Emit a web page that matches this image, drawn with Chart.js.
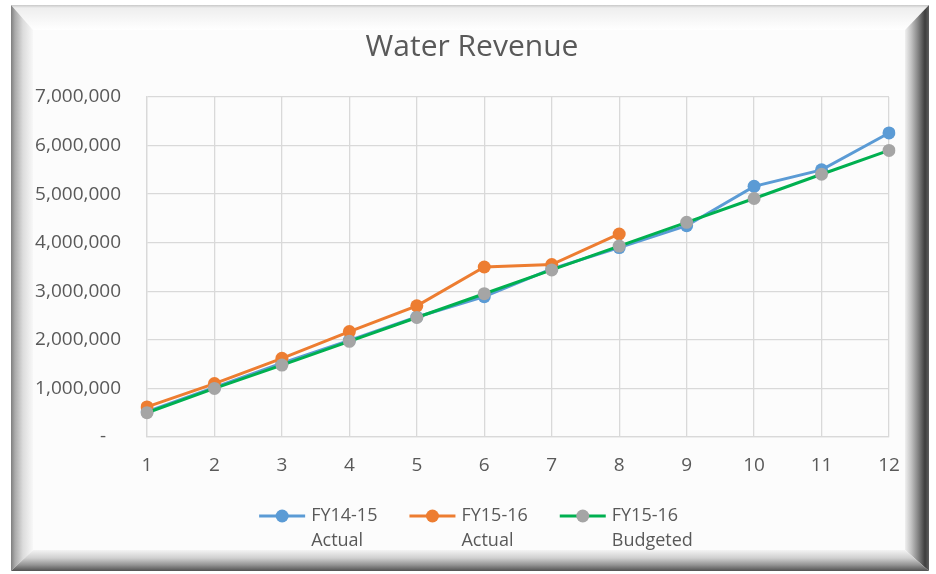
<!DOCTYPE html>
<html>
<head>
<meta charset="utf-8">
<script src="https://cdn.jsdelivr.net/npm/chart.js@4/dist/chart.umd.min.js"></script>
<style>
    html, body { margin: 0; padding: 0; background: #ffffff; }
    #wrap { position: relative; width: 936px; height: 574px; overflow: hidden; }
    .bevel { position: absolute; }
    #face { left: 33px; top: 30px; width: 872px; height: 520px; background: #fcfcfc; }
    #top {
        left: 11px; top: 5px; width: 918px; height: 25px;
        background: linear-gradient(to bottom, #c8c8c8 0px, #eeeeee 3px, #ffffff 25px);
        clip-path: polygon(0 0, 100% 0, calc(100% - 24px) 100%, 22px 100%);
    }
    #left {
        left: 11px; top: 5px; width: 22px; height: 566px;
        background: linear-gradient(to right, #7e7e7e 0px, #aaaaaa 4px, #dcdcdc 12px, #f8f8f8 22px);
        clip-path: polygon(0 0, 100% 25px, 100% calc(100% - 21px), 0 100%);
    }
    #right {
        left: 905px; top: 5px; width: 24px; height: 566px;
        background: linear-gradient(to right, #f0f0f0 0px, #c4c4c4 6px, #858585 13px, #3e3e3e 20px, #5e5e5e 24px);
        clip-path: polygon(0 25px, 100% 0, 100% 100%, 0 calc(100% - 21px));
    }
    #bottom {
        left: 11px; top: 550px; width: 918px; height: 21px;
        background: linear-gradient(to bottom, #f4f4f4 0px, #d0d0d0 8px, #939393 15px, #525252 21px);
        clip-path: polygon(22px 0, calc(100% - 24px) 0, 100% 100%, 0 100%);
    }
    canvas { position: absolute; left: 0; top: 0; }
</style>
</head>
<body>
<div id="wrap">
    <div class="bevel" id="face"></div>
    <div class="bevel" id="top"></div>
    <div class="bevel" id="left"></div>
    <div class="bevel" id="right"></div>
    <div class="bevel" id="bottom"></div>
    <canvas id="chart" width="936" height="574"></canvas>
</div>
<script>
const months = ["1", "2", "3", "4", "5", "6", "7", "8", "9", "10", "11", "12"];
const actual1415 = [520000, 1020000, 1520000, 1990000, 2470000, 2890000, 3460000, 3900000, 4350000, 5160000, 5500000, 6260000];
const actual1516 = [620000, 1100000, 1620000, 2170000, 2700000, 3500000, 3550000, 4180000];
const budget1516 = [500000, 1000000, 1480000, 1970000, 2460000, 2950000, 3440000, 3930000, 4420000, 4910000, 5410000, 5900000];
const yTicks = [0, 1000000, 2000000, 3000000, 4000000, 5000000, 6000000, 7000000];

const textColor = "#595959";
const gridColor = "#d9d9d9";
const fontFamily = "'Open Sans', sans-serif";

// title + legend drawn by hand so they sit where the original has them
const decorations = {
    id: "decorations",
    afterDraw(chart) {
        const { ctx } = chart;
        ctx.save();
        ctx.fillStyle = textColor;
        ctx.font = `30px ${fontFamily}`;
        ctx.textAlign = "center";
        ctx.textBaseline = "middle";
        ctx.fillText("Water Revenue", 472, 47);

        ctx.font = `18px ${fontFamily}`;
        ctx.textAlign = "left";
        const items = chart.data.datasets.map((ds) => ({
            lines: ds.label,
            line: ds.borderColor,
            dot: ds.pointBackgroundColor,
        }));
        const iconW = 46;
        const gap = 6;
        const spacing = 32;
        const widths = items.map(
            (it) => iconW + gap + Math.max(...it.lines.map((l) => ctx.measureText(l).width)),
        );
        const total = widths.reduce((a, b) => a + b, 0) + spacing * (items.length - 1);
        let x = 476 - total / 2;
        const y = 516;
        items.forEach((it, i) => {
            ctx.strokeStyle = it.line;
            ctx.lineWidth = 3;
            ctx.beginPath();
            ctx.moveTo(x, y);
            ctx.lineTo(x + iconW, y);
            ctx.stroke();
            ctx.fillStyle = it.dot;
            ctx.beginPath();
            ctx.arc(x + iconW / 2, y, 6.5, 0, Math.PI * 2);
            ctx.fill();
            ctx.fillStyle = textColor;
            it.lines.forEach((l, j) => ctx.fillText(l, x + iconW + gap, y + j * 25));
            x += widths[i] + spacing;
        });
        ctx.restore();
    },
};

new Chart(document.getElementById("chart"), {
    type: "line",
    data: {
        labels: months,
        datasets: [
            {
                label: ["FY14-15", "Actual"],
                data: actual1415,
                borderColor: "#5b9bd5",
                pointBackgroundColor: "#5b9bd5",
                order: 3,
            },
            {
                label: ["FY15-16", "Actual"],
                data: actual1516,
                borderColor: "#ed7d31",
                pointBackgroundColor: "#ed7d31",
                order: 2,
            },
            {
                label: ["FY15-16", "Budgeted"],
                data: budget1516,
                borderColor: "#00b050",
                pointBackgroundColor: "#a5a5a5",
                order: 1,
            },
        ],
    },
    options: {
        responsive: false,
        animation: false,
        layout: { padding: { left: 20, right: 47, top: 97, bottom: 87 } },
        elements: {
            line: { borderWidth: 3, tension: 0 },
            point: { radius: 6.5, borderWidth: 0, hoverRadius: 6.5 },
        },
        plugins: {
            legend: { display: false },
            title: { display: false },
            tooltip: { enabled: false },
        },
        scales: {
            x: {
                offset: false,
                grid: { color: gridColor, lineWidth: 1.3, drawTicks: false, offset: false },
                border: { color: gridColor, width: 1.3 },
                ticks: {
                    color: textColor,
                    font: { family: fontFamily, size: 19 },
                    padding: 17,
                    maxRotation: 0,
                },
                afterFit(scale) {
                    scale.height = 50;
                },
            },
            y: {
                min: 0,
                max: 7000000,
                afterBuildTicks(scale) {
                    scale.ticks = yTicks.map((v) => ({ value: v }));
                },
                grid: { color: gridColor, lineWidth: 1.3, drawTicks: false },
                border: { color: gridColor, width: 1.3 },
                ticks: {
                    color: textColor,
                    font: { family: fontFamily, size: 19 },
                    padding: 26,
                    callback: (v) => (v === 0 ? "-   " : v.toLocaleString("en-US")),
                },
                afterFit(scale) {
                    scale.width = 127;
                },
            },
        },
    },
    plugins: [decorations],
});
</script>
</body>
</html>
